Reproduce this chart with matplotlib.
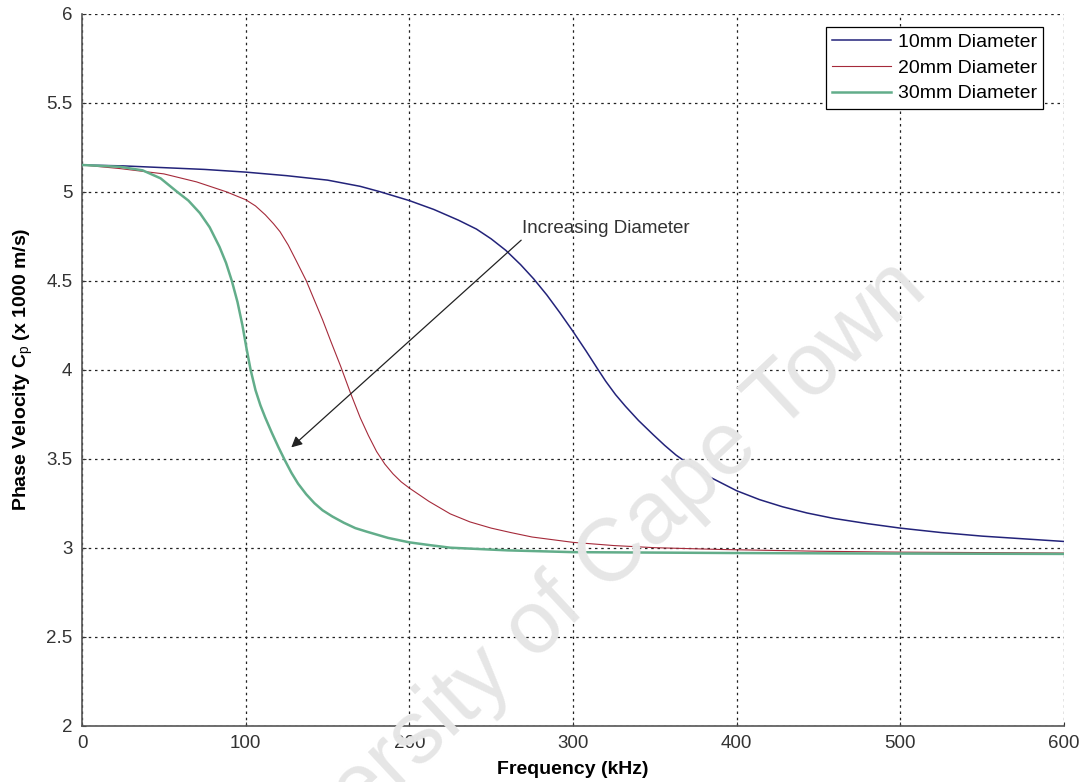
import matplotlib
matplotlib.use('Agg')
import matplotlib.pyplot as plt

plt.rcParams['font.family'] = ['Liberation Sans', 'DejaVu Sans']
plt.rcParams['mathtext.fontset'] = 'custom'
plt.rcParams['mathtext.rm'] = 'Liberation Sans'
plt.rcParams['mathtext.it'] = 'Liberation Sans:italic'
plt.rcParams['mathtext.bf'] = 'Liberation Sans:bold'

# Dati (frequenza in kHz, velocita' in 1000 m/s)
freq_10 = [0, 25, 50, 75, 100, 125, 150, 170, 182, 200, 215, 230, 241, 250,
           259, 268, 276, 284, 292, 300, 308, 315, 320, 326, 332, 340, 349, 356,
           363, 373, 384, 400, 414, 428, 443, 459, 480, 500, 525, 550, 575, 600]
vel_10 = [5.15, 5.145, 5.135, 5.125, 5.11, 5.09, 5.065, 5.03, 5.0, 4.95, 4.9,
          4.84, 4.79, 4.735, 4.67, 4.59, 4.51, 4.42, 4.32, 4.215, 4.105,
          4.005, 3.935, 3.86, 3.795, 3.715, 3.635, 3.575, 3.52, 3.455, 3.395,
          3.32, 3.27, 3.23, 3.195, 3.165, 3.135, 3.11, 3.085, 3.065, 3.05, 3.035]

freq_20 = [0, 23, 50, 70, 88, 100, 106, 112, 117, 121, 126, 131, 137, 142, 147,
           152, 158, 164, 170, 175, 180, 185, 190, 195, 200, 212, 225, 237, 250,
           262, 275, 300, 325, 350, 390, 450, 500, 600]
vel_20 = [5.15, 5.13, 5.1, 5.055, 5.0, 4.955, 4.92, 4.87, 4.82, 4.775, 4.7,
          4.61, 4.5, 4.39, 4.28, 4.16, 4.02, 3.87, 3.73, 3.63, 3.54, 3.47, 3.415,
          3.37, 3.335, 3.26, 3.19, 3.145, 3.11, 3.085, 3.06, 3.03, 3.012, 3.0,
          2.99, 2.98, 2.975, 2.97]

freq_30 = [0, 23, 37, 48, 58, 65, 72, 78, 84, 88, 91.5, 95, 98, 100.5, 103, 106,
           109, 112, 116, 120, 124, 128, 132, 137, 142, 147, 153, 160, 167, 174,
           187, 200, 212, 225, 260, 300, 400, 500, 600]
vel_30 = [5.15, 5.14, 5.12, 5.075, 5.0, 4.95, 4.88, 4.8, 4.69, 4.6, 4.5, 4.38,
          4.25, 4.12, 4.0, 3.885, 3.8, 3.73, 3.645, 3.565, 3.49, 3.42, 3.36, 3.3,
          3.25, 3.21, 3.175, 3.14, 3.11, 3.09, 3.055, 3.03, 3.015, 3.0, 2.985,
          2.975, 2.97, 2.967, 2.965]

etichette = ['10mm Diameter', '20mm Diameter', '30mm Diameter']
colori = ['#23237a', '#a52a3a', '#62ad8a']
spessori = [1.1, 0.8, 1.8]

x_ticks = [0, 100, 200, 300, 400, 500, 600]
y_ticks = [2, 2.5, 3, 3.5, 4, 4.5, 5, 5.5, 6]
y_labels = ['2', '2.5', '3', '3.5', '4', '4.5', '5', '5.5', '6']

fig = plt.figure(figsize=(10.85, 7.82), dpi=100)
ax = fig.add_axes([0.0756, 0.072, 0.905, 0.9105])

# Filigrana
fig.text(0.857, 0.625, 'University of Cape Town', rotation=43,
         rotation_mode='anchor', ha='right', va='baseline', fontsize=64,
         color='#e6e6e6', zorder=0)
ax.set_facecolor('none')

serie = [(freq_10, vel_10), (freq_20, vel_20), (freq_30, vel_30)]
for (f, v), lab, col, lw in zip(serie, etichette, colori, spessori):
    ax.plot(f, v, color=col, linewidth=lw, label=lab, zorder=3)

ax.set_xlim(0, 600)
ax.set_ylim(2, 6)
ax.set_xticks(x_ticks)
ax.set_yticks(y_ticks)
ax.set_yticklabels(y_labels)
ax.tick_params(direction='in', length=3, labelsize=13.5, colors='#333333',
               pad=7)

ax.grid(True, color='#222222', linestyle=(0, (2, 3)), linewidth=0.9)
for lato in ['top', 'right']:
    ax.spines[lato].set_visible(False)
for lato in ['left', 'bottom']:
    ax.spines[lato].set_color('#555555')
    ax.spines[lato].set_linewidth(1.2)

ax.set_xlabel('Frequency (kHz)', fontsize=14, fontweight='bold', labelpad=6)
ax.set_ylabel(r'Phase Velocity C$_\mathrm{p}$ (x 1000 m/s)', fontsize=14,
              fontweight='bold', labelpad=8)

# Freccia "Increasing Diameter"
ax.annotate('', xy=(126.6, 3.553), xytext=(269.6, 4.738),
            arrowprops=dict(arrowstyle='-|>', color='#222222', lw=0.9,
                            mutation_scale=16), zorder=4)
ax.text(269.0, 4.77, 'Increasing Diameter', fontsize=13.5, color='#333333',
        ha='left', va='baseline', zorder=4)

leg = ax.legend(loc='upper right', bbox_to_anchor=(0.9786, 0.9813),
                borderaxespad=0, fancybox=False, edgecolor='black',
                framealpha=1, fontsize=14, handlelength=3.0,
                handletextpad=0.35, labelspacing=0.42, borderpad=0.32)
leg.get_frame().set_linewidth(0.9)

fig.savefig('out.png', dpi=100)
